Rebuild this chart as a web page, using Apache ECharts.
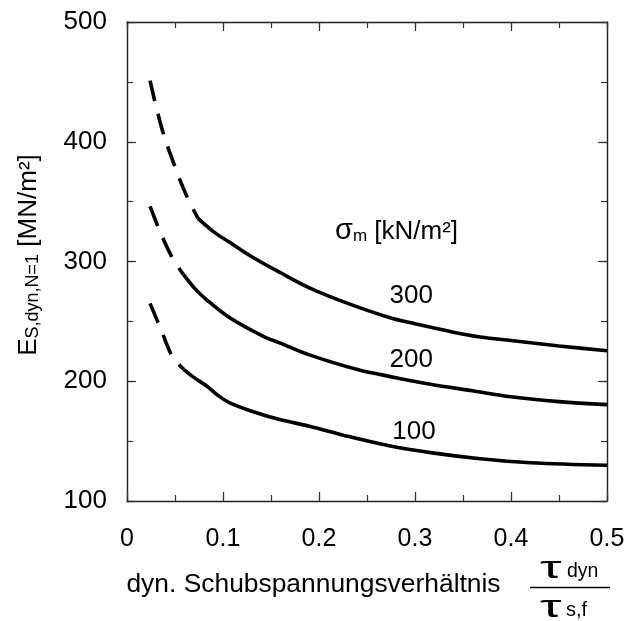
<!DOCTYPE html>
<html>
<head>
<meta charset="utf-8">
<script src="https://cdn.jsdelivr.net/npm/echarts@6/dist/echarts.min.js"></script>
<style>
html,body{margin:0;padding:0;background:#fff;}
#chart{width:634px;height:621px;}
</style>
</head>
<body>
<div id="chart"></div>
<script>
// ---- data ----
var xTicks = [0, 0.1, 0.2, 0.3, 0.4, 0.5];
var yTicks = [100, 200, 300, 400, 500];

// sigma_m = 300 kN/m2
var s300Dashed = [[0.024, 451], [0.036, 412], [0.050, 379], [0.062, 355], [0.074, 336]];
var s300Solid  = [[0.074, 336], [0.090, 325], [0.107, 316], [0.130, 304], [0.159, 291], [0.190, 278], [0.230, 265], [0.274, 253], [0.300, 248], [0.340, 241], [0.368, 237], [0.400, 234], [0.450, 229.5], [0.500, 225.5]];

// sigma_m = 200 kN/m2
var s200Dashed = [[0.024, 346], [0.036, 322], [0.048, 302], [0.059, 289]];
var s200Solid  = [[0.059, 289], [0.070, 278], [0.083, 268], [0.107, 253], [0.142, 237.5], [0.159, 232], [0.190, 222], [0.239, 210], [0.280, 203], [0.316, 197.5], [0.360, 192], [0.400, 187], [0.450, 183], [0.500, 180.5]];

// sigma_m = 100 kN/m2
var s100Dashed = [[0.024, 265], [0.036, 242], [0.047, 221], [0.059, 210]];
var s100Solid  = [[0.059, 210], [0.070, 203], [0.083, 196], [0.095, 188], [0.107, 182], [0.130, 175], [0.159, 168], [0.190, 162.5], [0.230, 154], [0.274, 146], [0.320, 140], [0.368, 135.3], [0.420, 132], [0.500, 129.8]];

var curveLabels = [
  {text: '300', coord: [0.296, 271]},
  {text: '200', coord: [0.296, 218]},
  {text: '100', coord: [0.299, 158]}
];

var FONT = '"Liberation Sans", Arial, sans-serif';
var FS = 25;

function lineSeries(data, dashed, labels) {
  var s = {
    type: 'line',
    xAxisIndex: 0, yAxisIndex: 0,
    data: data,
    smooth: 0.35,
    symbol: 'none',
    silent: true,
    animation: false,
    lineStyle: {color: '#000', width: 3.6, type: dashed ? [21, 13] : 'solid', cap: 'butt'}
  };
  if (labels) {
    s.markPoint = {
      symbol: 'circle', symbolSize: 0, silent: true, animation: false,
      label: {show: true, position: 'inside', color: '#000', fontFamily: FONT, fontSize: 26, formatter: '{b}'},
      data: labels.map(function (l) { return {name: l.text, coord: l.coord}; })
    };
  }
  return s;
}

var TICK = {color: '#333', width: 1.2};

function xAx(pos, step, tickLen, labels, line) {
  return {
    type: 'value', min: xTicks[0], max: xTicks[xTicks.length - 1], interval: step,
    position: pos,
    axisLine: {show: line, onZero: false, lineStyle: {color: '#222', width: 1.4}},
    axisTick: {show: true, inside: true, length: tickLen, lineStyle: TICK},
    splitLine: {show: false},
    axisLabel: labels ? {color: '#000', fontFamily: FONT, fontSize: FS, margin: 26,
      formatter: function (v) { return String(+v.toFixed(1)); }} : {show: false}
  };
}
function yAx(pos, step, tickLen, labels, line) {
  return {
    type: 'value', min: yTicks[0], max: yTicks[yTicks.length - 1], interval: step,
    position: pos,
    axisLine: {show: line, onZero: false, lineStyle: {color: '#222', width: 1.4}},
    axisTick: {show: true, inside: true, length: tickLen, lineStyle: TICK},
    splitLine: {show: false},
    axisLabel: labels ? {color: '#000', fontFamily: FONT, fontSize: 26, margin: 20} : {show: false}
  };
}

var chart = echarts.init(document.getElementById('chart'), null, {renderer: 'canvas'});
chart.setOption({
  backgroundColor: '#fff',
  animation: false,
  grid: {left: 127, right: 27, top: 22, bottom: 120, containLabel: false},
  xAxis: [
    xAx('bottom', 0.1, 9, true, true),
    xAx('top', 0.1, 9, false, true),
    xAx('bottom', 0.05, 6, false, false),
    xAx('top', 0.05, 6, false, false)
  ],
  yAxis: [
    yAx('left', 100, 9, true, true),
    yAx('right', 100, 9, false, true),
    yAx('left', 50, 6, false, false),
    yAx('right', 50, 6, false, false)
  ],
  series: [
    lineSeries(s300Dashed, true),
    lineSeries(s300Solid, false, [curveLabels[0]]),
    lineSeries(s200Dashed, true),
    lineSeries(s200Solid, false, [curveLabels[1]]),
    lineSeries(s100Dashed, true),
    lineSeries(s100Solid, false, [curveLabels[2]])
  ],
  graphic: [
    {
      type: 'text', x: 29, y: 255, rotation: Math.PI / 2, silent: true,
      style: {
        text: '{a|E}{b|S,dyn,N=1}{a| [MN/m²]}',
        align: 'center', verticalAlign: 'middle', fill: '#000',
        rich: {
          a: {fontFamily: FONT, fontSize: 26, lineHeight: 26, verticalAlign: 'bottom', fill: '#000'},
          b: {fontFamily: FONT, fontSize: 18, lineHeight: 16, verticalAlign: 'bottom', fill: '#000'}
        }
      }
    },
    {
      type: 'text', x: 313.5, y: 585, silent: true,
      style: {text: 'dyn. Schubspannungsverhältnis', align: 'center', verticalAlign: 'middle',
        fontFamily: FONT, fontSize: 26.4, fill: '#000'}
    },
    {
      type: 'text', x: 335, y: 231, silent: true,
      style: {
        text: '{s|σ}{m|m}{a| [kN/m²]}', align: 'left', verticalAlign: 'middle', fill: '#000',
        rich: {
          s: {fontFamily: FONT, fontSize: 29, lineHeight: 28, verticalAlign: 'bottom', fill: '#000'},
          m: {fontFamily: FONT, fontSize: 17, lineHeight: 9, verticalAlign: 'bottom', fill: '#000'},
          a: {fontFamily: FONT, fontSize: 26, lineHeight: 26, verticalAlign: 'bottom', fill: '#000'}
        }
      }
    },
    // fraction tau_dyn / tau_s,f
    {
      type: 'text', x: 540, y: 569.5, scaleX: 1.7, silent: true,
      style: {text: 'τ', align: 'left', verticalAlign: 'middle', fontFamily: FONT, fontSize: 32, fill: '#000'}
    },
    {
      type: 'text', x: 567, y: 572, silent: true,
      style: {text: 'dyn', align: 'left', verticalAlign: 'middle', fontFamily: FONT, fontSize: 19.5, fill: '#000'}
    },
    {
      type: 'line', silent: true,
      shape: {x1: 530, y1: 587.5, x2: 610, y2: 587.5},
      style: {stroke: '#000', lineWidth: 1.6}
    },
    {
      type: 'text', x: 540, y: 608.5, scaleX: 1.7, silent: true,
      style: {text: 'τ', align: 'left', verticalAlign: 'middle', fontFamily: FONT, fontSize: 32, fill: '#000'}
    },
    {
      type: 'text', x: 566, y: 610, silent: true,
      style: {text: 's,f', align: 'left', verticalAlign: 'middle', fontFamily: FONT, fontSize: 20, fill: '#000'}
    }
  ]
});
</script>
</body>
</html>
